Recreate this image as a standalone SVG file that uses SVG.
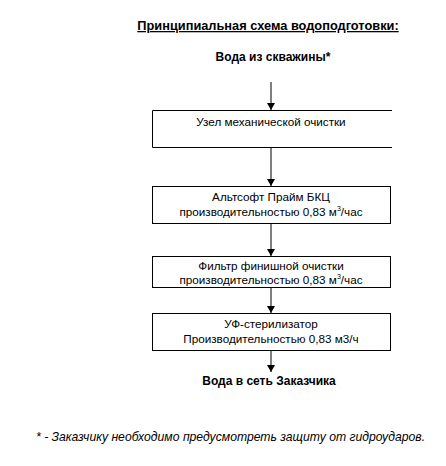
<svg xmlns="http://www.w3.org/2000/svg" width="446" height="466" viewBox="0 0 446 466">
<style>
text{font-family:"Liberation Sans",Arial,sans-serif;font-size:11.7px;fill:#000}
.b{font-weight:bold;font-size:12px}
.t{font-size:12.8px;font-weight:bold;text-decoration:underline}
.box{fill:#fff;stroke:#000;stroke-width:1}
.c{stroke:#000;stroke-width:1;fill:none;marker-end:url(#ah)}
.fn{font-style:italic;font-size:12.2px}
</style>
<defs>
<marker id="ah" markerWidth="7" markerHeight="9" refX="7" refY="4" orient="auto" markerUnits="userSpaceOnUse">
<path d="M0,0 L7,4 L0,8 Z" fill="#000"/>
</marker>
</defs>
<rect width="446" height="466" fill="#fff"/>
<g id="title"><text class="t" x="268" y="30" text-anchor="middle">Принципиальная схема водоподготовки:</text></g>
<g id="source"><text class="b" x="273" y="61" text-anchor="middle">Вода из скважины*</text></g>
<g id="connectors">
<line class="c" x1="271" y1="82" x2="271" y2="110"/>
<line class="c" x1="271" y1="148" x2="271" y2="186"/>
<line class="c" x1="271" y1="224" x2="271" y2="256"/>
<line class="c" x1="271" y1="288" x2="271" y2="313"/>
<line class="c" x1="271" y1="351" x2="271" y2="372"/>
</g>
<g id="n1">
<path d="M392,110.5 H152.5 V147.5 H392" class="box"/>
<text x="271" y="126" text-anchor="middle">Узел механической очистки</text>
</g>
<g id="n2">
<rect class="box" x="152.5" y="186.5" width="238" height="37"/>
<text x="271" y="201" text-anchor="middle">Альтсофт Прайм БКЦ</text>
<text x="271" y="216" text-anchor="middle">производительностью 0,83 м<tspan font-size="7" dy="-5">3</tspan><tspan dy="5">/час</tspan></text>
</g>
<g id="n3">
<rect class="box" x="152.5" y="256.5" width="238" height="31"/>
<text x="271" y="270" text-anchor="middle">Фильтр финишной очистки</text>
<text x="271" y="284" text-anchor="middle">производительностью 0,83 м<tspan font-size="7" dy="-5">3</tspan><tspan dy="5">/час</tspan></text>
</g>
<g id="n4">
<rect class="box" x="152.5" y="313.5" width="238" height="37"/>
<text x="271" y="328" text-anchor="middle">УФ-стерилизатор</text>
<text x="271" y="343" text-anchor="middle">Производительностью 0,83 м3/ч</text>
</g>
<g id="sink"><text class="b" x="269" y="385" text-anchor="middle">Вода в сеть Заказчика</text></g>
<g id="footnote"><text class="fn" x="36" y="441">* - Заказчику необходимо предусмотреть защиту от гидроударов.</text></g>
</svg>
